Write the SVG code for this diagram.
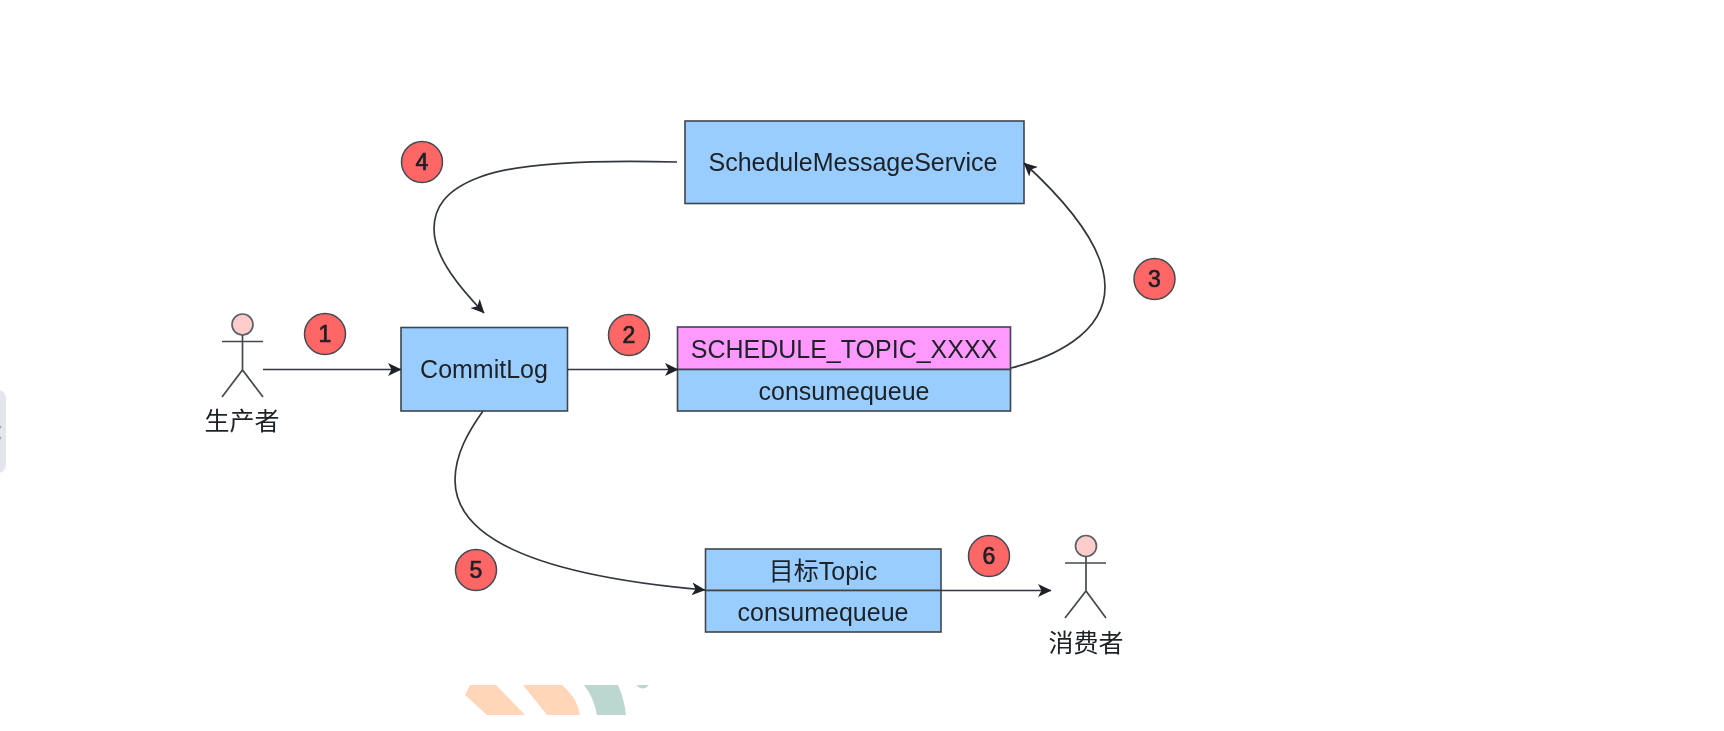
<svg xmlns="http://www.w3.org/2000/svg" width="1724" height="731" viewBox="0 0 1724 731">
<style>
.box{stroke:#3f454c;stroke-width:1.6}
.blue{fill:#99ccff}
.pink{fill:#ff99ff}
.t{font-family:"Liberation Sans","Noto Sans CJK SC",sans-serif;font-size:25px;fill:#1c2026;text-anchor:middle;dominant-baseline:central}
.conn{fill:none;stroke:#33373d;stroke-width:1.7}
.badge{fill:#ff6666;stroke:#444a50;stroke-width:1.5}
.num{font-family:"Liberation Sans",sans-serif;font-size:23px;fill:#1c2026;stroke:#1c2026;stroke-width:0.7;text-anchor:middle;dominant-baseline:central}
.actor{fill:none;stroke:#444a50;stroke-width:1.7}
.head{fill:#ffcccc;stroke:#5c6166;stroke-width:1.7}
</style>
<defs>
<marker id="arrow" markerUnits="userSpaceOnUse" markerWidth="16" markerHeight="14" refX="13" refY="7" orient="auto">
<path d="M0 0.500L13.500 7L0 13.500L3.500 7Z" fill="#1c2026"/>
</marker>
<filter id="soft" x="-5%" y="-5%" width="110%" height="110%"><feGaussianBlur stdDeviation="0.7"/></filter>
</defs>
<rect width="1724" height="731" fill="#ffffff"/>
<g id="backdrop" filter="url(#soft)">
<rect x="-12" y="390" width="18" height="83" rx="8" fill="#e3e7ec"/>
<circle cx="0" cy="427" r="1.500" fill="#a8aeb5"/>
<circle cx="0" cy="438" r="1.500" fill="#a8aeb5"/>
<path d="M470 685H496L525 715H487L465 695Z" fill="#ffd6b8"/>
<path d="M523 685H562Q577 697 580 715H547Z" fill="#ffd6b8"/>
<path d="M584 685H618Q624 698 626 715H597Q594 698 584 685Z" fill="#bcd6d0"/>
<path d="M636 685H649Q643 692 636 685Z" fill="#bcd6d0"/>
</g>
<g filter="url(#soft)">
<g id="commitlog">
<rect class="box blue" x="401" y="327.500" width="166.500" height="83.500"/>
<text class="t" x="484" y="369">CommitLog</text>
</g>
<g id="schedule-service">
<rect class="box blue" x="685" y="121" width="339" height="82.500"/>
<text class="t" x="853" y="162">ScheduleMessageService</text>
</g>
<g id="schedule-topic">
<rect class="box pink" x="677.500" y="327" width="333" height="42.500"/>
<rect class="box blue" x="677.500" y="369.500" width="333" height="41.500"/>
<text class="t" x="844" y="349">SCHEDULE_TOPIC_XXXX</text>
<text class="t" x="844" y="391">consumequeue</text>
</g>
<g id="target-topic">
<rect class="box blue" x="705.500" y="549" width="235.500" height="41.500"/>
<rect class="box blue" x="705.500" y="590.500" width="235.500" height="41.500"/>
<text class="t" x="823" y="571">目标Topic</text>
<text class="t" x="823" y="612">consumequeue</text>
</g>
<g id="producer">
<circle class="head" cx="242.500" cy="324.500" r="10.500"/>
<path class="actor" d="M222 341.500H263M242.500 335V370M222 397L242.500 370L263 397"/>
<text class="t" x="242" y="421">生产者</text>
</g>
<g id="consumer">
<circle class="head" cx="1086" cy="546" r="10.500"/>
<path class="actor" d="M1065 563H1106M1086 556.500V591M1065 618L1086 591L1106 618"/>
<text class="t" x="1086" y="643">消费者</text>
</g>
<g id="connectors">
<path class="conn" marker-end="url(#arrow)" d="M263 369.500H401"/>
<path class="conn" marker-end="url(#arrow)" d="M567.500 369.500H678"/>
<path class="conn" marker-end="url(#arrow)" d="M1011 368C1050 358 1105 335 1105 287C1105 250 1070 205 1024 163"/>
<path class="conn" marker-end="url(#arrow)" d="M677 162C600 160 520 162 480 177C445 190 434 208 434 229C434 258 462 290 484 313"/>
<path class="conn" marker-end="url(#arrow)" d="M483 411C468 432 455 455 455 480C455 555 590 580 705 590"/>
<path class="conn" marker-end="url(#arrow)" d="M941 590.500H1051"/>
</g>
<g id="badge-1"><circle class="badge" cx="325" cy="334" r="20.500"/><text class="num" x="325" y="334">1</text></g>
<g id="badge-2"><circle class="badge" cx="629" cy="335" r="20.500"/><text class="num" x="629" y="335">2</text></g>
<g id="badge-3"><circle class="badge" cx="1154.500" cy="279" r="20.500"/><text class="num" x="1154.500" y="279">3</text></g>
<g id="badge-4"><circle class="badge" cx="422" cy="162" r="20.500"/><text class="num" x="422" y="162">4</text></g>
<g id="badge-5"><circle class="badge" cx="476" cy="570" r="20.500"/><text class="num" x="476" y="570">5</text></g>
<g id="badge-6"><circle class="badge" cx="989" cy="556" r="20.500"/><text class="num" x="989" y="556">6</text></g>
</g>
</svg>
